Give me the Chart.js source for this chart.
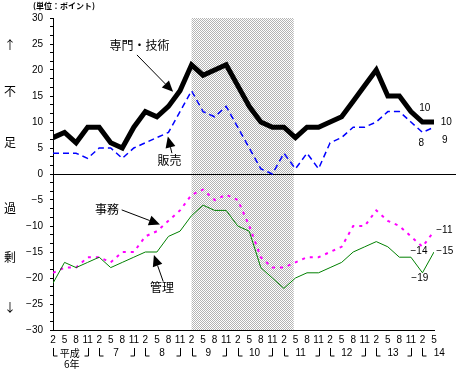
<!DOCTYPE html>
<html lang="ja">
<head>
<meta charset="utf-8">
<script src="https://cdn.jsdelivr.net/npm/chart.js@4.4.1/dist/chart.umd.min.js"></script>
<style>
html, body { margin: 0; padding: 0; background: #fff; }
#wrap { width: 460px; height: 371px; }
</style>
</head>
<body>
<div id="wrap"><canvas id="c" width="460" height="371"></canvas></div>
<script>
// quarterly survey months, 平成6年2月 .. 平成14年5月
const months = ['2','5','8','11', '2','5','8','11', '2','5','8','11', '2','5','8','11',
                '2','5','8','11', '2','5','8','11', '2','5','8','11', '2','5','8','11',
                '2','5'];
const yearNames  = ['平成','7','8','9','10','11','12','13','14'];
const yearStarts = [0, 4, 8, 12, 16, 20, 24, 28, 32];

// DI (points) per occupation
const senmon = [7,8,6,9,9,6,5,9,12,11,13,16,21,19,20,21,17,13,10,9,9,7,9,9,10,11,14,17,20,15,15,12,10,10];
const hanbai = [4,4,4,3,5,5,3,5,6,7,8,12,16,12,11,13,9,5,1,0,4,1,4,1,6,7,9,9,10,12,12,10,8,9];
const jimu   = [-19,-18,-18,-16,-16,-17,-15,-15,-12,-11,-9,-7,-4,-3,-5,-4,-5,-10,-16,-18,-18,-17,-16,-16,-15,-14,-10,-10,-7,-9,-10,-12,-14,-11];
const kanri  = [-21,-17,-18,-17,-16,-18,-17,-16,-15,-15,-12,-11,-8,-6,-7,-7,-10,-11,-18,-20,-22,-20,-19,-19,-18,-17,-15,-14,-13,-14,-16,-16,-19,-15];

// recession band (index units)
const shadeFrom = 12, shadeTo = 20.85;

const JP = "'Noto Sans CJK JP', sans-serif";
const NUM = "'Liberation Sans', Arial, sans-serif";
Chart.defaults.font.family = NUM;
Chart.defaults.font.size = 10;
Chart.defaults.color = '#000';

const pts = arr => arr.map((v, i) => ({ x: i, y: v }));
const minus = s => String(s).replace('-', '\u2212');

function hatch(ctx) {
  const p = document.createElement('canvas');
  p.width = 2; p.height = 2;
  const g = p.getContext('2d');
  g.fillStyle = '#fff'; g.fillRect(0, 0, 2, 2);
  g.fillStyle = '#b4b4b4'; g.fillRect(0, 0, 1, 1); g.fillRect(1, 1, 1, 1);
  return ctx.createPattern(p, 'repeat');
}

function arrow(ctx, x1, y1, x2, y2) {
  const ang = Math.atan2(y2 - y1, x2 - x1), len = 11, hw = 5;
  const bx = x2 - len * Math.cos(ang), by = y2 - len * Math.sin(ang);
  ctx.beginPath(); ctx.moveTo(x1, y1); ctx.lineTo(bx, by); ctx.stroke();
  ctx.beginPath();
  ctx.moveTo(x2, y2);
  ctx.lineTo(bx + hw * Math.sin(ang), by - hw * Math.cos(ang));
  ctx.lineTo(bx - hw * Math.sin(ang), by + hw * Math.cos(ang));
  ctx.closePath(); ctx.fill();
}

// series names with arrows, in data coordinates
const callouts = [
  { text: '専門・技術', tx: 7.5,  ty: 24.8,  from: [7.27, 22.9],  to: [10.4, 15.8] },
  { text: '販売',       tx: 10.1, ty: 2.7,   from: [10.3, 4.0],   to: [9.95, 7.2] },
  { text: '事務',       tx: 4.68, ty: -6.9,  from: [5.95, -6.9],  to: [9.26, -9.7] },
  { text: '管理',       tx: 9.44, ty: -21.9, from: [9.55, -20.7], to: [8.74, -15.6] }
];
// latest values written at the line ends
const endLabels = [
  { text: '10', x: 32.2,  y: 12.7 },
  { text: '10', x: 34.07, y: 9.87 },
  { text: '8',  x: 31.9,  y: 6.0 },
  { text: '9',  x: 33.94, y: 6.5 },
  { text: '-11', x: 33.9,  y: -10.9 },
  { text: '-15', x: 33.94, y: -14.9 },
  { text: '-14', x: 31.7,  y: -14.8 },
  { text: '-19', x: 31.77, y: -20 }
];
const sideWords = [['↑', 24.8], ['不', 15.9], ['足', 6], ['過', -6.6], ['剰', -16], ['↓', -25.6]];

const decor = {
  id: 'decor',
  beforeDatasetsDraw(chart) {
    const { ctx, chartArea: a, scales: { x, y } } = chart;
    ctx.save();
    const x1 = x.getPixelForValue(shadeFrom), x2 = x.getPixelForValue(shadeTo);
    ctx.fillStyle = hatch(ctx);
    ctx.fillRect(x1, a.top, x2 - x1, a.bottom - a.top);
    const y0 = Math.round(y.getPixelForValue(0)) + 0.5;
    ctx.strokeStyle = '#000'; ctx.lineWidth = 1;
    ctx.beginPath(); ctx.moveTo(a.left, y0); ctx.lineTo(a.right + 22, y0); ctx.stroke();
    ctx.restore();
  },
  afterDraw(chart) {
    const { ctx, chartArea: a, scales: { x, y } } = chart;
    ctx.save();
    ctx.fillStyle = '#000'; ctx.strokeStyle = '#000'; ctx.lineWidth = 1;
    ctx.textAlign = 'center'; ctx.textBaseline = 'middle';

    // title
    ctx.font = 'bold 8px ' + JP; ctx.textAlign = 'left';
    ctx.fillText('(単位：ポイント)', 33, 6);

    // side words
    ctx.textAlign = 'center'; ctx.font = '12px ' + JP;
    sideWords.forEach(([w, v]) => ctx.fillText(w, 10, y.getPixelForValue(v)));

    // callouts
    callouts.forEach(c => {
      ctx.font = '12px ' + JP;
      ctx.fillText(c.text, x.getPixelForValue(c.tx), y.getPixelForValue(c.ty));
      arrow(ctx, x.getPixelForValue(c.from[0]), y.getPixelForValue(c.from[1]),
                 x.getPixelForValue(c.to[0]), y.getPixelForValue(c.to[1]));
    });

    // end values
    ctx.font = '10px ' + NUM;
    endLabels.forEach(l => ctx.fillText(minus(l.text), x.getPixelForValue(l.x), y.getPixelForValue(l.y)));

    // year row with brackets
    const r2 = a.bottom + 22, r3 = a.bottom + 34;
    yearNames.forEach((name, k) => {
      const s = yearStarts[k];
      const xs = Math.round(x.getPixelForValue(s)) + 0.5;
      ctx.beginPath(); ctx.moveTo(xs, r2 - 4); ctx.lineTo(xs, r2 + 4); ctx.lineTo(xs + 4, r2 + 4); ctx.stroke();
      if (s + 3 < months.length) {
        const xe = Math.round(x.getPixelForValue(s + 3)) + 0.5;
        ctx.beginPath(); ctx.moveTo(xe, r2 - 4); ctx.lineTo(xe, r2 + 4); ctx.lineTo(xe - 4, r2 + 4); ctx.stroke();
      }
      const xc = x.getPixelForValue(s + 1.45);
      ctx.font = (k === 0 ? '10px ' + JP : '10px ' + NUM);
      ctx.fillText(name, xc, r2 + 1);
      if (k === 0) { ctx.font = '10px ' + JP; ctx.fillText('6年', xc + 2, r3); }
    });
    ctx.restore();
  }
};

new Chart(document.getElementById('c'), {
  type: 'line',
  data: {
    datasets: [
      { label: '管理', data: pts(kanri), borderColor: '#008000', borderWidth: 1 },
      { label: '事務', data: pts(jimu), borderColor: '#ff00ff', borderWidth: 2, borderDash: [3, 5] },
      { label: '販売', data: pts(hanbai), borderColor: '#0000ff', borderWidth: 1.5, borderDash: [6, 4] },
      { label: '専門・技術', data: pts(senmon), borderColor: '#000', borderWidth: 5 }
    ]
  },
  options: {
    responsive: false,
    animation: false,
    elements: { point: { radius: 0 }, line: { tension: 0, fill: false } },
    layout: { padding: { left: 13, top: 18, right: 26, bottom: 0 } },
    plugins: { legend: { display: false }, tooltip: { enabled: false } },
    scales: {
      x: {
        type: 'linear', min: 0, max: months.length - 1,
        afterBuildTicks: s => { s.ticks = months.map((_, i) => ({ value: i })); },
        afterFit: s => { s.height = 41; },
        ticks: { autoSkip: false, maxRotation: 0, padding: 4, callback: v => months[v] },
        grid: { display: false, drawTicks: false },
        border: { color: '#000' }
      },
      y: {
        min: -30, max: 30,
        afterBuildTicks: s => {
          s.ticks = [];
          for (let k = 0; k <= 36; k++) s.ticks.push({ value: -30 + k * 5 / 3 });
        },
        afterFit: s => { s.width = 40; },
        ticks: {
          autoSkip: false, padding: 7,
          callback: v => {
            const r = Math.round(v);
            return Math.abs(v - r) < 1e-6 && r % 5 === 0 ? minus(r) : '';
          }
        },
        grid: { drawOnChartArea: false, tickLength: 3, color: '#000' },
        border: { color: '#000' }
      }
    }
  },
  plugins: [decor]
});
</script>
</body>
</html>
